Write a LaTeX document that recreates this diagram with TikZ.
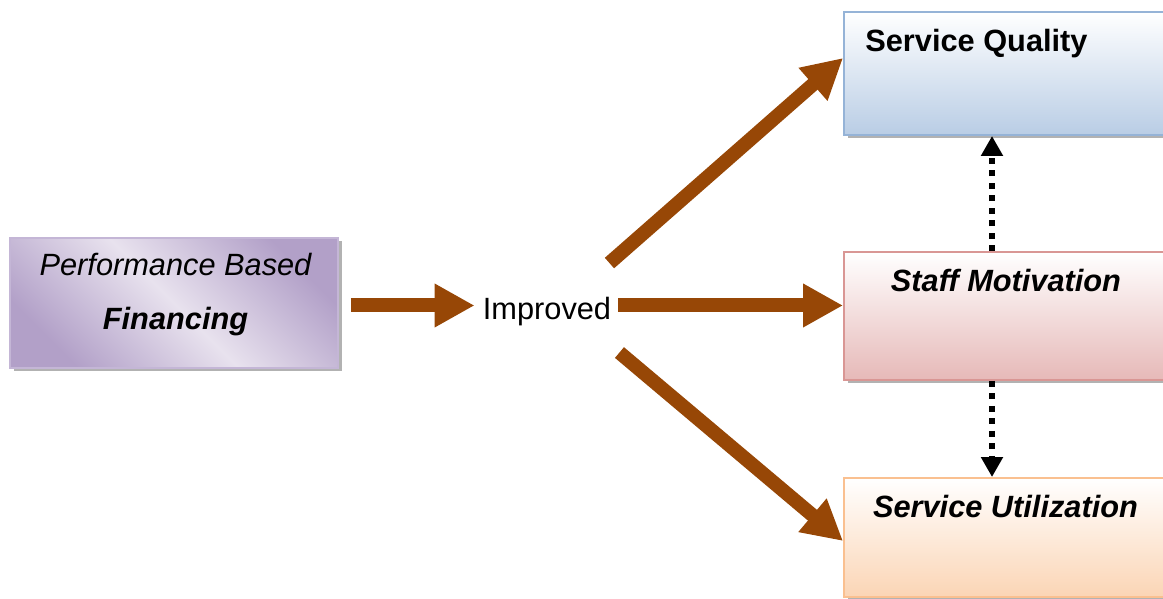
\documentclass[tikz,border=0pt]{standalone}
\usepackage{fontspec}
\setmainfont{Liberation Sans}
\usetikzlibrary{arrows.meta,shadows}
\definecolor{arrbrown}{RGB}{151,71,6}
\definecolor{pbfdark}{RGB}{178,160,200}
\definecolor{pbflight}{RGB}{232,226,238}
\definecolor{pbfline}{RGB}{196,182,214}
\definecolor{sqline}{RGB}{149,179,215}
\definecolor{sqfill}{RGB}{185,205,229}
\definecolor{smline}{RGB}{217,150,148}
\definecolor{smfill}{RGB}{230,185,184}
\definecolor{suline}{RGB}{250,192,144}
\definecolor{sufill}{RGB}{251,213,181}
\begin{document}
\begin{tikzpicture}[
    box/.style={draw, line width=1.1pt, minimum width=6.72cm, inner sep=0pt,
      general shadow={fill=gray!60, shadow xshift=0.07cm, shadow yshift=-0.07cm}},
    txt/.style={inner sep=0pt, font=\fontsize{17.5}{21}\selectfont},
    bigarrow/.style={line width=0.28cm, arrbrown, -{Triangle[length=0.8cm,width=0.82cm]}},
    dotarrow/.style={line width=0.12cm, dash pattern=on 0.12cm off 0.13cm,
      -{Triangle[length=0.4cm,width=0.42cm]}}]

    \useasboundingbox (0,0) rectangle (23.26,11.98);

    \node[box, draw=pbfline, top color=pbfdark, bottom color=pbfdark, middle color=pbflight,
      shading angle=-45, minimum width=6.56cm, minimum height=2.6cm] (pbf) at (3.48,5.92) {};
    \node[box, draw=sqline, top color=white, bottom color=sqfill, minimum height=2.46cm] (sq) at (20.24,10.51) {};
    \node[box, draw=smline, top color=white, bottom color=smfill, minimum height=2.56cm] (sm) at (20.24,5.66) {};
    \node[box, draw=suline, top color=white, bottom color=sufill, minimum height=2.38cm] (su) at (20.24,1.23) {};

    \node[txt, anchor=base] (pbftop) at (3.51,6.46) {\itshape Performance Based};
    \node[txt, anchor=base] (pbfbot) at (3.51,5.38) {\bfseries\itshape Financing};
    \node[txt, anchor=base] (imp) at (10.94,5.58) {Improved};
    \node[txt, anchor=base west] (sqtxt) at (17.30,10.94) {\bfseries Service Quality};
    \node[txt, anchor=base] (smtxt) at (20.12,6.14) {\bfseries\itshape Staff Motivation};
    \node[txt, anchor=base] (sutxt) at (20.11,1.63) {\bfseries\itshape Service Utilization};

    \coordinate (row) at (0,5.87);
    \coordinate (dx) at (19.84,0);

    \draw[bigarrow, shorten <=0.24cm, shorten >=0.16cm] (pbf.east |- row) -- (imp.west |- row);
    \draw[bigarrow, shorten <=0.14cm] (imp.east |- row) -- (sm.west |- row);
    \draw[bigarrow] ([shift={(-0.04,0.98)}]imp.east) -- ([yshift=0.31cm]sq.west);
    \draw[bigarrow] ([shift={(0.16,-0.81)}]imp.east) -- ([yshift=-0.07cm]su.west);

    \draw[dotarrow] (dx |- sm.north) -- (dx |- sq.south);
    \draw[dotarrow] (dx |- sm.south) -- (dx |- su.north);
\end{tikzpicture}
\end{document}
